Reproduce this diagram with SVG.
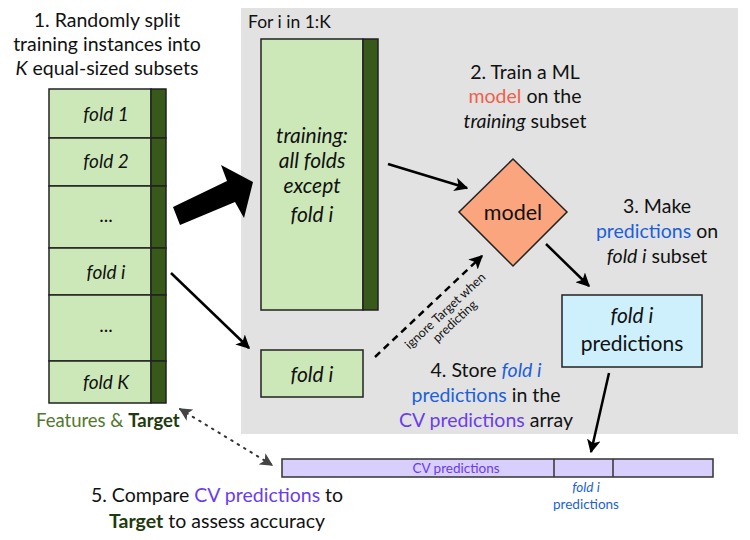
<svg xmlns="http://www.w3.org/2000/svg" width="750" height="540" viewBox="0 0 750 540">
<style>
text{font-family:Lato,"Noto Sans","Liberation Sans",sans-serif;fill:#111}
.t{font-size:19.5px}
.it{font-style:italic}
.c{text-anchor:middle}
.blue{fill:#1c5fdc}
.purple{fill:#6a3cf0}
.red{fill:#f0604c}
.fold{fill:#cde8b8;stroke:#222;stroke-width:1.5}
.dark{fill:#375a1a;stroke:#222;stroke-width:1.5}
.ln{stroke:#000;stroke-width:2.5;fill:none}
.f{font-size:19px}
.b{font-size:21px}
</style>
<defs>
<marker id="ah" viewBox="0 0 10 10" refX="9" refY="5" markerWidth="5.5" markerHeight="5.5" orient="auto-start-reverse" markerUnits="strokeWidth">
<path d="M0,0 L10,5 L0,10 L2.5,5 Z" fill="#000"/>
</marker>
<marker id="ahg" viewBox="0 0 10 10" refX="9" refY="5" markerWidth="6.5" markerHeight="6.5" orient="auto-start-reverse" markerUnits="strokeWidth">
<path d="M0,0 L10,5 L0,10 L2.5,5 Z" fill="#444"/>
</marker>
</defs>

<rect id="loop-bg" x="241" y="8" width="497" height="426" fill="#e2e2e2"/>
<text x="248" y="28" style="font-size:17.5px">For i in 1:K</text>

<g id="step1-text">
<text class="t c" x="107" y="27">1. Randomly split</text>
<text class="t c" x="107" y="51">training instances into</text>
<text class="t c" x="107" y="75"><tspan class="it">K</tspan> equal-sized subsets</text>
</g>

<g id="dataset">
<rect class="fold" x="49" y="89" width="102" height="49"/>
<rect class="fold" x="49" y="138" width="102" height="48"/>
<rect class="fold" x="49" y="186" width="102" height="62"/>
<rect class="fold" x="49" y="248" width="102" height="47"/>
<rect class="fold" x="49" y="295" width="102" height="66"/>
<rect class="fold" x="49" y="361" width="102" height="42"/>
<rect class="dark" x="151" y="89" width="15" height="49"/>
<rect class="dark" x="151" y="138" width="15" height="48"/>
<rect class="dark" x="151" y="186" width="15" height="62"/>
<rect class="dark" x="151" y="248" width="15" height="47"/>
<rect class="dark" x="151" y="295" width="15" height="66"/>
<rect class="dark" x="151" y="361" width="15" height="42"/>
<text class="it c f" x="106" y="121">fold 1</text>
<text class="it c f" x="106" y="168">fold 2</text>
<text class="c f" x="106" y="222">...</text>
<text class="it c f" x="106" y="279">fold i</text>
<text class="c f" x="106" y="332">...</text>
<text class="it c f" x="106" y="389">fold K</text>
<text x="36" y="427" style="font-size:18.5px"><tspan style="fill:#52782c">Features &amp; </tspan><tspan style="fill:#1f3a0e;font-weight:bold">Target</tspan></text>
</g>

<g id="training-set">
<rect class="fold" x="261" y="39" width="102" height="271"/>
<rect class="dark" x="363" y="39" width="15" height="271"/>
<text class="it c b" x="312" y="143">training:</text>
<text class="it c b" x="312" y="168">all folds</text>
<text class="it c b" x="312" y="193">except</text>
<text class="it c b" x="312" y="222">fold i</text>
</g>

<g id="fold-i">
<rect class="fold" x="261" y="350" width="102" height="47"/>
<text class="it c b" x="312" y="382">fold i</text>
</g>

<g id="model">
<polygon points="513,159 567,212 513,266 459,212" fill="#fba57e" stroke="#222" stroke-width="1.5"/>
<text class="c" x="513" y="220" style="font-size:21.5px">model</text>
</g>

<g id="predictions">
<rect x="562" y="295" width="140" height="72" fill="#cdf0fc" stroke="#222" stroke-width="1.5"/>
<text class="it c b" x="632" y="323">fold i</text>
<text class="c b" x="632" y="351">predictions</text>
</g>

<g id="step2-text">
<text class="t c" x="525" y="79">2. Train a ML</text>
<text class="t c" x="525" y="103"><tspan class="red">model</tspan> on the</text>
<text class="t c" x="525" y="128"><tspan class="it">training</tspan> subset</text>
</g>

<g id="step3-text">
<text class="t c" x="657" y="213">3. Make</text>
<text class="t c" x="657" y="238"><tspan class="blue">predictions</tspan> on</text>
<text class="t c" x="657" y="263"><tspan class="it">fold i</tspan> subset</text>
</g>

<g id="step4-text">
<text class="t c" x="486" y="377">4. Store <tspan class="it blue">fold i</tspan></text>
<text class="t c" x="486" y="402"><tspan class="blue">predictions</tspan> in the</text>
<text class="t c" x="486" y="427"><tspan class="purple">CV predictions</tspan> array</text>
</g>

<g id="cv-array">
<rect x="282" y="459" width="431" height="18" fill="#d9cffc" stroke="#333" stroke-width="1.5"/>
<line x1="554" y1="459" x2="554" y2="477" stroke="#333" stroke-width="1.5"/>
<line x1="613" y1="459" x2="613" y2="477" stroke="#333" stroke-width="1.5"/>
<text class="c purple" x="456" y="473" style="font-size:13.5px">CV predictions</text>
<text class="c it blue" x="586" y="492" style="font-size:13.5px">fold i</text>
<text class="c blue" x="586" y="509" style="font-size:13.5px">predictions</text>
</g>

<g id="step5-text">
<text class="t c" x="217" y="502">5. Compare <tspan class="purple">CV predictions</tspan> to</text>
<text class="t c" x="217" y="528"><tspan style="fill:#1f3a0e;font-weight:bold">Target</tspan> to assess accuracy</text>
</g>

<g id="connectors">
<polygon points="173,207 227,181 221,165 253,182 244,218 235,202 180,225" fill="#000"/>
<line class="ln" x1="388" y1="164" x2="467" y2="188" marker-end="url(#ah)"/>
<line class="ln" x1="171" y1="273" x2="249" y2="348" marker-end="url(#ah)"/>
<line class="ln" x1="375" y1="357" x2="482" y2="256" stroke-width="3" stroke-dasharray="7,5" marker-end="url(#ah)"/>
<line class="ln" x1="546" y1="244" x2="589" y2="286" marker-end="url(#ah)"/>
<line class="ln" x1="609" y1="373" x2="591" y2="452" marker-end="url(#ah)"/>
<line x1="180" y1="409" x2="272" y2="465" stroke="#333" stroke-width="2" stroke-dasharray="1.5,6" stroke-linecap="round" marker-start="url(#ahg)" marker-end="url(#ahg)"/>
<g transform="translate(448,314) rotate(-43)">
<text class="c" x="0" y="0" style="font-size:12.5px">ignore Target when</text>
<text class="c" x="0" y="14" style="font-size:12.5px">predicting</text>
</g>
</g>
</svg>
